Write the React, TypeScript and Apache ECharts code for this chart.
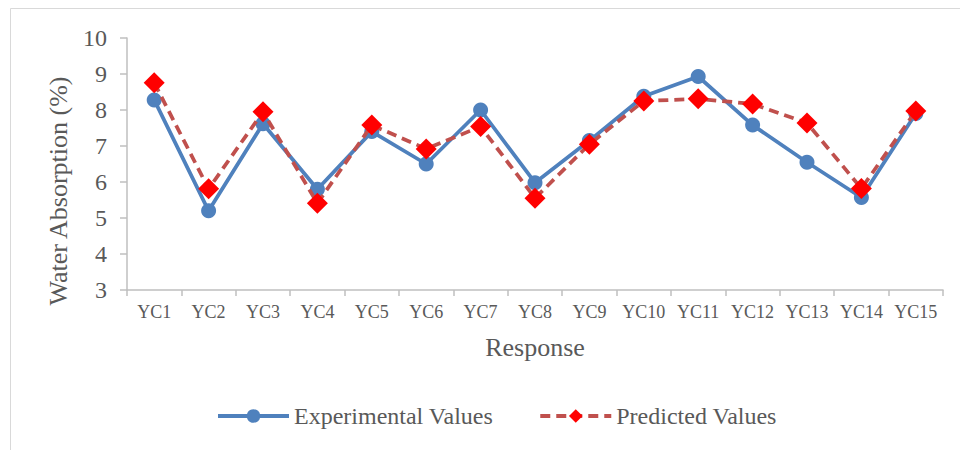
import React, { useEffect, useRef } from "react";
import * as echarts from "echarts";

const categories = ["YC1", "YC2", "YC3", "YC4", "YC5", "YC6", "YC7", "YC8", "YC9", "YC10", "YC11", "YC12", "YC13", "YC14", "YC15"];
const experimental = [8.28, 5.2, 7.62, 5.8, 7.4, 6.5, 8.0, 5.98, 7.15, 8.38, 8.93, 7.58, 6.55, 5.57, 7.9];
const predicted = [8.76, 5.81, 7.95, 5.41, 7.58, 6.92, 7.54, 5.55, 7.05, 8.25, 8.31, 8.17, 7.64, 5.82, 7.97];
const yTicks = { min: 3, max: 10, interval: 1 };

const FONT = "'Liberation Serif', 'Times New Roman', serif";
const TXT = "#595959";
const AXIS = "#bfbfbf";

export default function App() {
  const ref = useRef<HTMLDivElement>(null);
  useEffect(() => {
    if (!ref.current) return;
    const chart = echarts.init(ref.current, null, { renderer: "svg" });
    chart.setOption({
      animation: false,
      backgroundColor: "#ffffff",
      textStyle: { fontFamily: FONT, color: TXT },
      grid: { left: 127, right: 17, top: 38, bottom: 160, containLabel: false },
      graphic: [
        {
          type: "rect",
          shape: { x: 10.5, y: 8.5, width: 1000, height: 500 },
          style: { fill: "none", stroke: "#d9d9d9", lineWidth: 1 },
          silent: true,
          z: -1,
        },
        {
          type: "text",
          x: 58,
          y: 191,
          rotation: Math.PI / 2,
          style: {
            text: "Water Absorption (%)",
            font: `26px ${FONT}`,
            fill: TXT,
            textAlign: "center",
            textVerticalAlign: "middle",
          },
        },
      ],
      legend: {
        left: 216,
        top: 404,
        padding: 0,
        itemWidth: 71,
        itemHeight: 17,
        itemGap: 45,
        lineStyle: { width: 4 },
        textStyle: { fontFamily: FONT, fontSize: 24, color: TXT },
        data: ["Experimental Values", "Predicted Values"],
      },
      xAxis: {
        type: "category",
        data: categories,
        boundaryGap: true,
        name: "Response",
        nameLocation: "middle",
        nameGap: 44,
        nameTextStyle: { fontFamily: FONT, fontSize: 26, color: TXT },
        axisLine: { show: true, lineStyle: { color: AXIS, width: 1.5 } },
        axisTick: { show: true, alignWithLabel: false, length: 6, lineStyle: { color: AXIS, width: 1.5 } },
        axisLabel: { fontFamily: FONT, fontSize: 18, color: TXT, margin: 13, interval: 0 },
        splitLine: { show: false },
      },
      yAxis: {
        type: "value",
        min: yTicks.min,
        max: yTicks.max,
        interval: yTicks.interval,
        axisLine: { show: true, lineStyle: { color: AXIS, width: 1.5 } },
        axisTick: { show: true, length: 7, lineStyle: { color: AXIS, width: 1.5 } },
        axisLabel: { fontFamily: FONT, fontSize: 24, color: TXT, margin: 20 },
        splitLine: { show: false },
      },
      series: [
        {
          name: "Experimental Values",
          type: "line",
          data: experimental,
          symbol: "circle",
          symbolSize: 15,
          lineStyle: { color: "#4f81bd", width: 3.75 },
          itemStyle: { color: "#4f81bd" },
          z: 2,
        },
        {
          name: "Predicted Values",
          type: "line",
          data: predicted,
          symbol: "diamond",
          symbolSize: 21,
          lineStyle: { color: "#c0504d", width: 3.75, type: [10, 6] },
          itemStyle: { color: "#ff0000" },
          z: 3,
        },
      ],
    });
    return () => chart.dispose();
  }, []);
  return (
    <div
      ref={ref}
      style={{ position: "fixed", left: 0, top: 0, width: 960, height: 450 }}
    />
  );
}
